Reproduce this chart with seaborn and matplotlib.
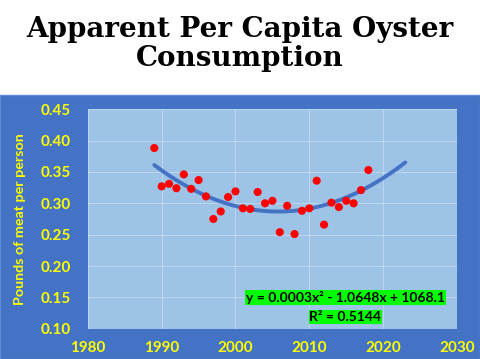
import numpy as np
import pandas as pd
import matplotlib.pyplot as plt
import seaborn as sns
from matplotlib.patches import Rectangle

# Per capita oyster consumption, pounds of meat per person
years = list(range(1989, 2019))
pounds = [0.388, 0.327, 0.331, 0.324, 0.346, 0.323, 0.337, 0.311, 0.275, 0.287,
          0.310, 0.319, 0.292, 0.291, 0.318, 0.300, 0.304, 0.254, 0.296, 0.251,
          0.288, 0.292, 0.336, 0.266, 0.301, 0.294, 0.304, 0.300, 0.321, 0.353]

title = "Apparent Per Capita Oyster\nConsumption"
ylabel = "Pounds of meat per person"
eq_text = "y = 0.0003x² - 1.0648x + 1068.1"
r2_text = "R² = 0.5144"

df = pd.DataFrame({"year": years, "pounds": pounds})

# second order trendline, forecast forward 5 years like the excel chart
coef = np.polyfit(df["year"], df["pounds"], 2)
trend_x = np.linspace(1989, 2023, 100)
trend = pd.DataFrame({"year": trend_x, "pounds": np.polyval(coef, trend_x)})

sns.set_style("white")
plt.rcParams['font.family'] = ['Lato', 'DejaVu Sans']

fig = plt.figure(figsize=(4.8, 3.59), dpi=100)
fig.patches.append(Rectangle((0, 0), 1, 0.735, transform=fig.transFigure,
                             facecolor="#4472C4", edgecolor="#5B8BD6", lw=1, zorder=-5))

fig.text(0.5, 0.877, title, ha="center", va="center", fontsize=20, color="black",
         fontweight="heavy", family="DejaVu Serif", linespacing=1.12)

ax = fig.add_axes([0.183, 0.084, 0.769, 0.612])
ax.set_zorder(2)
ax.set_facecolor("#9DC3E6")

sns.lineplot(data=trend, x="year", y="pounds", ax=ax, color="#4472C4", lw=2.8, zorder=2)
sns.scatterplot(data=df, x="year", y="pounds", ax=ax, color="#FF0000", s=34,
                edgecolor="none", zorder=3)

ax.set_xlim(1980, 2030)
ax.set_ylim(0.10, 0.45)
ax.set_xticks(range(1980, 2031, 10))
ax.set_yticks(np.arange(0.10, 0.451, 0.05))
ax.set_yticklabels([f"{v:.2f}" for v in np.arange(0.10, 0.451, 0.05)])
ax.grid(True, color="white", alpha=0.3, lw=0.8)
for s in ax.spines.values():
    s.set_visible(False)
ax.tick_params(length=0, colors="#FFFF00", labelsize=11)
ax.tick_params(axis="y", pad=12)
ax.tick_params(axis="x", pad=9)
for lab in ax.get_xticklabels() + ax.get_yticklabels():
    lab.set_fontweight("bold")
ax.set_xlabel("")
ax.set_ylabel(ylabel, color="#FFFF00", fontsize=10.3, fontweight="bold", labelpad=11)

ax.text(2014.9, 0.1495, eq_text, ha="center", va="center", fontsize=10, fontweight="bold",
        color="black", bbox=dict(facecolor="#00FF00", edgecolor="none", pad=0.6))
ax.text(2014.9, 0.119, r2_text, ha="center", va="center", fontsize=10, fontweight="bold",
        color="black", bbox=dict(facecolor="#00FF00", edgecolor="none", pad=0.6))

fig.savefig("out.png", dpi=100)
